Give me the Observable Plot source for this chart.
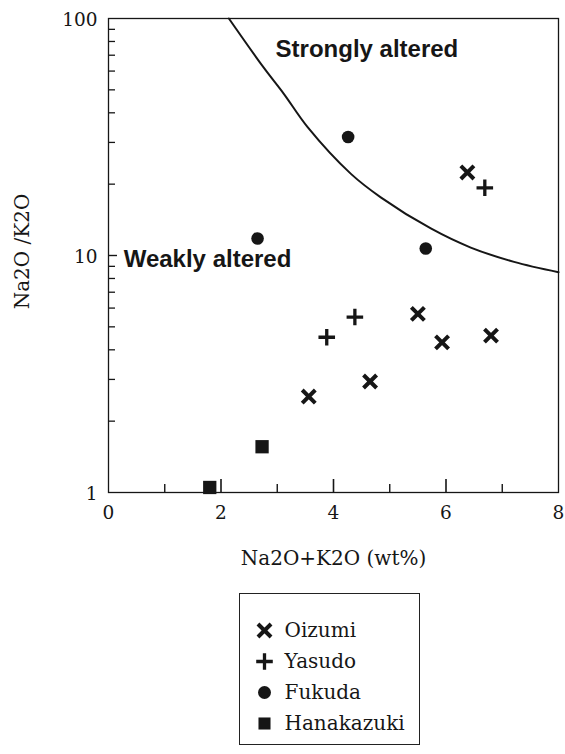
<!DOCTYPE html>
<html>
<head>
<meta charset="utf-8">
<script src="https://cdn.jsdelivr.net/npm/d3@7"></script>
<script src="https://cdn.jsdelivr.net/npm/@observablehq/plot@0.6"></script>
<style>
  html, body { margin: 0; padding: 0; background: #fff; }
  #wrap { position: relative; width: 565px; height: 754px; overflow: hidden; }
  #legend { position: absolute; left: 239px; top: 593px; width: 179px; height: 150px; border: 1.3px solid #222; background: #fff; }
</style>
</head>
<body>
<div id="wrap"><div id="chart"></div><div id="legend"></div></div>
<script>
// ---- data ----
const seriesNames = ["Oizumi", "Yasudo", "Fukuda", "Hanakazuki"];

const oizumiX = [6.38, 3.56, 4.65, 5.50, 5.93, 6.80];
const oizumiY = [22.4, 2.54, 2.94, 5.67, 4.30, 4.59];

const yasudoX = [6.69, 3.88, 4.38];
const yasudoY = [19.3, 4.52, 5.50];

const fukudaX = [4.26, 5.64, 2.65];
const fukudaY = [31.6, 10.7, 11.8];

const hanakazukiX = [1.80, 2.73];
const hanakazukiY = [1.05, 1.56];

// boundary curve between weakly and strongly altered
const curveX = [2.14, 2.76, 3.12, 3.54, 4.31, 4.84, 5.73, 6.44, 7.21, 8.0];
const curveY = [100, 62, 48, 34.8, 22.1, 17.6, 13.0, 10.8, 9.4, 8.5];

const annotationText = ["Strongly altered", "Weakly altered"];
const annotationX = [2.97, 0.27];
const annotationY = [74, 9.6];

const xMajorTicks = [0, 2, 4, 6, 8];
const xMinorTicks = [1, 3, 5, 7];
const yMajorTicks = [1, 10, 100];
const yMinorTicks = [2, 3, 4, 5, 6, 7, 8, 9, 20, 30, 40, 50, 60, 70, 80, 90];

const xLabel = "Na2O+K2O (wt%)";
const yLabel = "Na2O /K2O";

// ---- build tables ----
const zip = (xs, ys, name) => xs.map((x, i) => ({x, y: ys[i], series: name}));
const oizumi = zip(oizumiX, oizumiY, "Oizumi");
const yasudo = zip(yasudoX, yasudoY, "Yasudo");
const fukuda = zip(fukudaX, fukudaY, "Fukuda");
const hanakazuki = zip(hanakazukiX, hanakazukiY, "Hanakazuki");
const curve = curveX.map((x, i) => ({x, y: curveY[i]}));
const annotations = annotationText.map((t, i) => ({t, x: annotationX[i], y: annotationY[i]}));

const ink = "#161616";
const serif = "DejaVu Serif";
const W = 565, H = 590, mT = 18, mB = 98, mL = 108, mR = 7;
const frameW = W - mL - mR, frameH = H - mT - mB;

const chart = Plot.plot({
  width: W,
  height: H,
  marginTop: mT,
  marginBottom: mB,
  marginLeft: mL,
  marginRight: mR,
  style: {fontFamily: serif, fontSize: "18.5px", color: ink, background: "#fff"},
  x: {domain: [0, 8]},
  y: {type: "log", domain: [1, 100]},
  marks: [
    Plot.frame({stroke: ink, strokeWidth: 1.3}),
    Plot.axisX(xMajorTicks, {anchor: "bottom", tickSize: 0, tickPadding: 13, label: null, fontFamily: serif, fontSize: 18.5}),
    Plot.axisY(yMajorTicks, {anchor: "left", tickSize: 0, tickPadding: 11, tickFormat: d => String(d), label: null, dy: 2, fontFamily: serif, fontSize: 18.5}),
    Plot.line(curve, {x: "x", y: "y", curve: "catmull-rom", stroke: ink, strokeWidth: 2}),
    Plot.text(annotations, {x: "x", y: "y", text: "t", textAnchor: "start", fontFamily: "Liberation Sans", fontWeight: "bold", fontSize: 24, fill: ink}),
    Plot.dot(oizumi, {x: "x", y: "y", symbol: "times", r: 6, stroke: ink, strokeWidth: 4}),
    Plot.dot(yasudo, {x: "x", y: "y", symbol: "plus", r: 5.4, stroke: ink, strokeWidth: 3.3}),
    Plot.dot(fukuda, {x: "x", y: "y", symbol: "circle", r: 6.3, fill: ink, stroke: "none"}),
    Plot.dot(hanakazuki, {x: "x", y: "y", symbol: "square", r: 7.5, fill: ink, stroke: "none"}),
    Plot.text([xLabel], {text: d => d, frameAnchor: "bottom", dy: 72, fontFamily: serif, fontSize: 20, fill: ink}),
    Plot.text([yLabel], {text: d => d, frameAnchor: "left", textAnchor: "middle", dx: -86, dy: -4, rotate: -90, fontFamily: serif, fontSize: 20, fill: ink}),
    // inward ticks, drawn last so nothing covers them
    Plot.ruleX(xMajorTicks.slice(1, -1), {x: d => d, insetTop: frameH - 13, stroke: ink, strokeWidth: 1.6}),
    Plot.ruleX(xMinorTicks, {x: d => d, insetTop: frameH - 8, stroke: ink, strokeWidth: 1.4}),
    Plot.ruleY(yMajorTicks.slice(1, -1), {y: d => d, insetRight: frameW - 9, stroke: ink, strokeWidth: 1.4}),
    Plot.ruleY(yMinorTicks, {y: d => d, insetRight: frameW - 7, stroke: ink, strokeWidth: 1.3})
  ]
});
document.getElementById("chart").appendChild(chart);

// ---- legend ----
const legendRows = seriesNames.map(name => ({name}));
const legendPlot = Plot.plot({
  width: 179,
  height: 150,
  margin: 0,
  style: {fontFamily: serif, fontSize: "20px", color: ink, background: "transparent"},
  x: {domain: [0, 1], axis: null},
  y: {type: "point", domain: seriesNames, range: [35, 129], padding: 0, axis: null},
  marks: [
    Plot.dot(legendRows.filter(d => d.name === "Oizumi"), {y: "name", frameAnchor: "left", dx: 24, symbol: "times", r: 6, stroke: ink, strokeWidth: 4}),
    Plot.dot(legendRows.filter(d => d.name === "Yasudo"), {y: "name", frameAnchor: "left", dx: 24, symbol: "plus", r: 5.4, stroke: ink, strokeWidth: 3.3}),
    Plot.dot(legendRows.filter(d => d.name === "Fukuda"), {y: "name", frameAnchor: "left", dx: 24, symbol: "circle", r: 6.5, fill: ink, stroke: "none"}),
    Plot.dot(legendRows.filter(d => d.name === "Hanakazuki"), {y: "name", frameAnchor: "left", dx: 24, symbol: "square", r: 6.8, fill: ink, stroke: "none"}),
    Plot.text(legendRows, {y: "name", text: "name", frameAnchor: "left", dx: 44, textAnchor: "start", fontFamily: serif, fontSize: 20, fill: ink})
  ]
});
document.getElementById("legend").appendChild(legendPlot);
</script>
</body>
</html>
